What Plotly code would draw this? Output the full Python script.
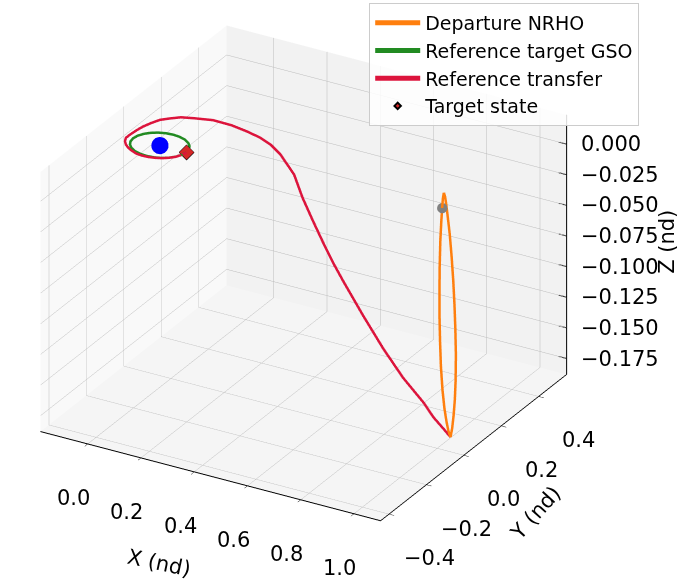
import plotly.graph_objects as go

# ---- Departure NRHO (nondimensional rotating frame) ----
nrho_x = [1.0250, 1.0255, 1.0263, 1.0274, 1.0293, 1.0318, 1.0344, 1.0369, 1.0395, 1.0420,
          1.0446, 1.0466, 1.0481, 1.0492, 1.0500, 1.0492, 1.0481, 1.0466, 1.0446, 1.0420,
          1.0395, 1.0369, 1.0344, 1.0318, 1.0293, 1.0274, 1.0263, 1.0255, 1.0250]
nrho_y = [0.000, 0.006, 0.011, 0.017, 0.025, 0.032, 0.037, 0.040, 0.041, 0.040,
          0.035, 0.028, 0.019, 0.010, 0.000, -0.010, -0.019, -0.028, -0.035, -0.040,
          -0.041, -0.040, -0.037, -0.032, -0.025, -0.017, -0.011, -0.006, 0.000]
nrho_z = [0.022, 0.018, 0.011, 0.001, -0.014, -0.034, -0.054, -0.074, -0.094, -0.114,
          -0.134, -0.149, -0.161, -0.170, -0.176, -0.170, -0.161, -0.149, -0.134, -0.114,
          -0.094, -0.074, -0.054, -0.034, -0.014, 0.001, 0.011, 0.018, 0.022]

# ---- Reference target GSO (about the Earth, z = 0) ----
gso_x = [0.0580, 0.0546, 0.0446, 0.0287, 0.0080, -0.0161, -0.0420, -0.0679, -0.0920,
         -0.1127, -0.1286, -0.1386, -0.1420, -0.1386, -0.1286, -0.1127, -0.0920, -0.0679,
         -0.0420, -0.0161, 0.0080, 0.0287, 0.0446, 0.0546, 0.0580]
gso_y = [0.0000, 0.0186, 0.0360, 0.0509, 0.0624, 0.0695, 0.0720, 0.0695, 0.0624,
         0.0509, 0.0360, 0.0186, 0.0000, -0.0186, -0.0360, -0.0509, -0.0624, -0.0695,
         -0.0720, -0.0695, -0.0624, -0.0509, -0.0360, -0.0186, 0.0000]
gso_z = [0.0] * len(gso_x)

# ---- Reference transfer (NRHO apolune -> GSO insertion) ----
tr_x = [1.050, 1.010, 0.953, 0.899, 0.800, 0.702, 0.602, 0.504, 0.452, 0.400, 0.343,
        0.285, 0.235, 0.176, 0.146, 0.115, 0.076, 0.036, -0.012, -0.0567, -0.0912,
        -0.1147, -0.1326, -0.1452, -0.1565, -0.1613, -0.1640, -0.1639, -0.1544, -0.1396,
        -0.1216, -0.1012, -0.0795, -0.0551, -0.0310, -0.0084, 0.0122, 0.0295, 0.0438,
        0.0519, 0.0565, 0.0580]
tr_y = [0.000, 0.020, 0.047, 0.071, 0.102, 0.136, 0.171, 0.203, 0.222, 0.243, 0.268,
        0.298, 0.324, 0.334, 0.326, 0.311, 0.294, 0.273, 0.243, 0.2095, 0.1835,
        0.1559, 0.1294, 0.1032, 0.0715, 0.0434, 0.0140, -0.0076, -0.0261, -0.0419,
        -0.0549, -0.0650, -0.0736, -0.0762, -0.0749, -0.0697, -0.0619, -0.0511, -0.0382,
        -0.0244, -0.0124, 0.0000]
tr_z = [-0.176, -0.174, -0.171, -0.165, -0.154, -0.140, -0.123, -0.104, -0.094, -0.083, -0.071,
        -0.060, -0.047, -0.035, -0.028, -0.022, -0.017, -0.012, -0.007, -0.004, -0.002,
        -0.001, 0.0, 0.0, 0.0, 0.0, 0.0, 0.0, 0.0, 0.0,
        0.0, 0.0, 0.0, 0.0, 0.0, 0.0, 0.0, 0.0, 0.0,
        0.0, 0.0, 0.0]

# ---- Single states ----
earth = (-0.042, 0.0, 0.0)
departure_state = (1.0263, -0.011, 0.011)
target_state = (0.058, 0.0, 0.0)

# ---- Axes ----
x_ticks = [0.0, 0.2, 0.4, 0.6, 0.8, 1.0]
y_ticks = [-0.4, -0.2, 0.0, 0.2, 0.4]
z_ticks = [-0.175, -0.150, -0.125, -0.100, -0.075, -0.050, -0.025, 0.000]
x_range = [-0.177, 1.10]
y_range = [-0.445, 0.55]
z_range = [-0.188, 0.024]

FONT = "DejaVu Sans"
TICK_SIZE = 21


def fmt(v, nd):
    s = f"{abs(v):.{nd}f}"
    return ("\u2212" + s) if v < 0 else s


fig = go.Figure()
fig.add_trace(go.Scatter3d(x=nrho_x, y=nrho_y, z=nrho_z, mode="lines",
                           line=dict(color="#ff7f0e", width=5), name="Departure NRHO"))
fig.add_trace(go.Scatter3d(x=gso_x, y=gso_y, z=gso_z, mode="lines",
                           line=dict(color="#228b22", width=5), name="Reference target GSO"))
fig.add_trace(go.Scatter3d(x=tr_x, y=tr_y, z=tr_z, mode="lines",
                           line=dict(color="#dc143c", width=5), name="Reference transfer"))
fig.add_trace(go.Scatter3d(x=[earth[0]], y=[earth[1]], z=[earth[2]], mode="markers",
                           marker=dict(color="#0000ff", size=10, symbol="circle"),
                           showlegend=False))
fig.add_trace(go.Scatter3d(x=[departure_state[0]], y=[departure_state[1]], z=[departure_state[2]],
                           mode="markers", marker=dict(color="#808080", size=6, symbol="circle"),
                           showlegend=False))
fig.add_trace(go.Scatter3d(x=[target_state[0]], y=[target_state[1]], z=[target_state[2]],
                           mode="markers", name="Target state",
                           marker=dict(color="#d62728", size=5, symbol="diamond",
                                       line=dict(color="black", width=2))))

# Z axis drawn on the right-hand vertical edge, with its tick marks
zx, zy = x_range[1], y_range[1]
z_line_x, z_line_y, z_line_z = [zx, zx], [zy, zy], [z_range[0], z_range[1]]
for t in z_ticks:
    z_line_x += [None, zx - 0.03, zx]
    z_line_y += [None, zy, zy]
    z_line_z += [None, t, t]
fig.add_trace(go.Scatter3d(x=z_line_x, y=z_line_y, z=z_line_z, mode="lines",
                           line=dict(color="black", width=2), showlegend=False,
                           hoverinfo="skip"))

# Tick labels and axis titles as scene annotations
ann = []
tick_font = dict(family=FONT, size=TICK_SIZE, color="black")
for t in x_ticks:
    ann.append(dict(x=t, y=y_range[0], z=z_range[0], text=fmt(t, 1), showarrow=False,
                    xanchor="center", yanchor="middle", xshift=-14, yshift=-54, font=tick_font))
for t in y_ticks:
    ann.append(dict(x=x_range[1], y=t, z=z_range[0], text=fmt(t, 1), showarrow=False,
                    xanchor="center", yanchor="middle", xshift=40, yshift=-44, font=tick_font))
for t in z_ticks:
    ann.append(dict(x=zx, y=zy, z=t, text=fmt(t, 3), showarrow=False,
                    xanchor="left", yanchor="middle", xshift=12, yshift=0, font=tick_font))
ann.append(dict(x=0.5, y=y_range[0], z=z_range[0], text="X (nd)", showarrow=False,
                xanchor="center", yanchor="middle", xshift=-62, yshift=-84, textangle=12,
                font=tick_font))
ann.append(dict(x=x_range[1], y=0.0, z=z_range[0], text="Y (nd)", showarrow=False,
                xanchor="center", yanchor="middle", xshift=72, yshift=-58, textangle=-48,
                font=tick_font))
ann.append(dict(x=zx, y=zy, z=-0.08, text="Z (nd)", showarrow=False,
                xanchor="center", yanchor="middle", xshift=100, yshift=0, textangle=-90,
                font=tick_font))

axis_common = dict(
    showgrid=True, gridcolor="#bcbcbc", gridwidth=1,
    zeroline=False, showspikes=False, showticklabels=False,
    showbackground=True, title=dict(text=""),
)

cam_center = (0.123, 0.0352, -0.0602)
view_dir = (0.668, -1.157, 0.681)

fig.update_layout(
    width=680, height=586,
    margin=dict(l=0, r=0, t=0, b=0),
    paper_bgcolor="white",
    font=dict(family=FONT, size=19, color="black"),
    legend=dict(x=0.94, y=0.995, xanchor="right", yanchor="top", itemwidth=45,
                bgcolor="rgba(255,255,255,0.85)", bordercolor="#cccccc", borderwidth=1,
                font=dict(family=FONT, size=19), tracegroupgap=0),
    scene=dict(
        domain=dict(x=[0, 1], y=[0, 1]),
        xaxis=dict(axis_common, range=x_range, tickvals=x_ticks,
                   showline=True, linecolor="black", linewidth=2,
                   ticks="outside", ticklen=6, tickcolor="black",
                   backgroundcolor="rgb(249,249,249)"),
        yaxis=dict(axis_common, range=y_range, tickvals=y_ticks,
                   showline=True, linecolor="black", linewidth=2,
                   ticks="outside", ticklen=6, tickcolor="black",
                   backgroundcolor="rgb(242,242,242)"),
        zaxis=dict(axis_common, range=z_range, tickvals=z_ticks,
                   showline=False, ticks="",
                   backgroundcolor="rgb(245,245,245)"),
        aspectmode="manual",
        aspectratio=dict(x=1.34, y=1.27, z=0.995),
        annotations=ann,
        camera=dict(
            projection=dict(type="orthographic"),
            center=dict(x=cam_center[0], y=cam_center[1], z=cam_center[2]),
            eye=dict(x=cam_center[0] + view_dir[0], y=cam_center[1] + view_dir[1],
                     z=cam_center[2] + view_dir[2]),
            up=dict(x=0, y=0, z=1),
        ),
    ),
)

fig.write_html("out.html")
